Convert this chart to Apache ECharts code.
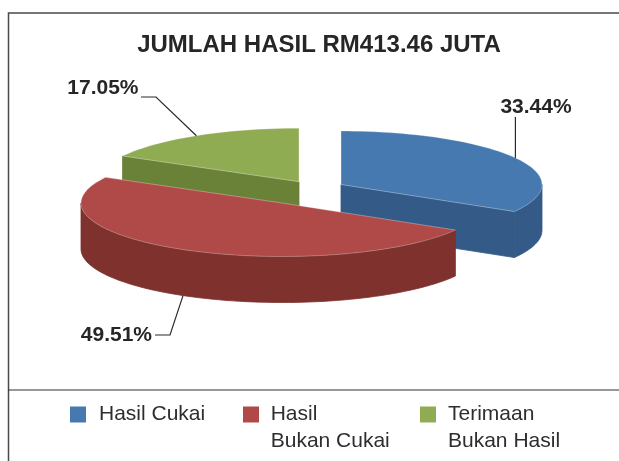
<!DOCTYPE html>
<html><head><meta charset="utf-8">
<style>html,body{margin:0;padding:0;background:#fff}#c{width:619px;height:461px}</style>
<script src="https://cdn.jsdelivr.net/npm/echarts@6/dist/echarts.min.js"></script>
</head><body><div id="c"></div>
<script>
const titleText = 'JUMLAH HASIL RM413.46 JUTA';
const categories = ['Hasil Cukai', 'Hasil\nBukan Cukai', 'Terimaan\nBukan Hasil'];
const values = [33.44, 49.51, 17.05];

// Projection and layout of the tilted exploded pie
const topColors = ['#4679b0', '#b04a48', '#90ac52'];
const wallColors = ['#345a87', '#7f312e', '#6a8238'];
const centres = [[341, 184.5], [282, 203], [299, 181.7]];
const rx = 201, ry = 53.5, depth = 46;
const zOrder = [2, 3, 1];
const elbows = [null, [170, 335, 155, 335], [156, 97, 141, 97]];
const labelPos = [[536, 107, 'center'], [152, 335, 'right'], [138.5, 88, 'right']];
const leaderTopY = 117;

const total = values.reduce((a, b) => a + b, 0);
const rad = d => d * Math.PI / 180;
function rim(c, a, dy) {
  return [c[0] + rx * Math.sin(rad(a)), c[1] - ry * Math.cos(rad(a)) + (dy || 0)];
}
function arc(c, a0, a1, dy) {
  const pts = [], n = Math.max(2, Math.ceil(Math.abs(a1 - a0) / 2));
  for (let i = 0; i <= n; i++) pts.push(rim(c, a0 + (a1 - a0) * i / n, dy));
  return pts;
}
function poly(points, color, stroke) {
  const style = { fill: color };
  if (stroke) { style.stroke = color; style.lineWidth = 0.8; }
  return { type: 'polygon', shape: { points }, style };
}
const makeRender = idx => function (params, api) {
  const v = api.value(0);
  let before = 0;
  for (let i = 0; i < idx; i++) before += values[i];
  const a0 = before / total * 360, a1 = a0 + v / total * 360;
  const c = centres[idx], kids = [];
  const w0 = Math.max(a0, 90), w1 = Math.min(a1, 270);
  if (w1 > w0) {
    kids.push(poly(arc(c, w0, w1).concat(arc(c, w1, w0, depth)), wallColors[idx], true));
  }
  const cutFace = a => {
    const p = rim(c, a);
    kids.push(poly([c, p, [p[0], p[1] + depth], [c[0], c[1] + depth]], wallColors[idx], true));
  };
  if (a1 > 90 && a1 < 270) cutFace(a1);
  if (a0 > 270 && a0 < 360) cutFace(a0);
  kids.push(poly([c].concat(arc(c, a0, a1)), topColors[idx]));
  kids.push({ type: 'polyline', shape: { points: [rim(c, a0), c, rim(c, a1)] },
    style: { stroke: 'rgba(255,255,255,0.45)', lineWidth: 0.7, fill: null } });
  kids.push({ type: 'polyline', shape: { points: arc(c, a0, a1) },
    style: { stroke: 'rgba(255,255,255,0.35)', lineWidth: 0.7, fill: null } });
  // leader line anchored on the slice's mid-angle
  const mid = (a0 + a1) / 2;
  const front = mid > 90 && mid < 270;
  const anchor = rim(c, mid, front ? depth : 0);
  let pts;
  if (elbows[idx]) {
    const e = elbows[idx];
    pts = [anchor, [e[0], e[1]], [e[2], e[3]]];
  } else {
    pts = [anchor, [anchor[0], leaderTopY]];
  }
  kids.push({ type: 'polyline', shape: { points: pts },
    style: { stroke: '#2b2b2b', lineWidth: 1.2, fill: null } });
  const lp = labelPos[idx];
  kids.push({ type: 'text', style: {
    x: lp[0], y: lp[1], text: v.toFixed(2) + '%', align: lp[2], verticalAlign: 'middle',
    font: 'bold 21px "Liberation Sans", Arial, sans-serif', fill: '#262626' } });
  return { type: 'group', children: kids };
};

const chart = echarts.init(document.getElementById('c'), null, { renderer: 'canvas' });
const iconShort = 'path://M0 0L0 0M16 27L16 27M0 5.5H16V21.5H0Z';
const iconTall = 'path://M0 0L0 0M16 54L16 54M0 5.5H16V21.5H0Z';
const legendLefts = [70, 243, 420];
const legendPads = [8, 6.7, 7];
chart.setOption({
  animation: false,
  backgroundColor: '#fff',
  title: { text: titleText, left: 314, textAlign: 'center', top: 28, textStyle: {
    fontFamily: '"Liberation Sans", Arial, sans-serif', fontWeight: 'bold', fontSize: 24, color: '#262626' } },
  legend: categories.map((name, i) => ({
    data: [name], left: legendLefts[i], top: 401, padding: 0, orient: 'horizontal',
    selectedMode: false, itemWidth: 16, itemHeight: i ? 54 : 27,
    icon: i ? iconTall : iconShort,
    textStyle: { fontFamily: '"Liberation Sans", Arial, sans-serif', fontSize: 21, lineHeight: 26.7,
      color: '#2e2e2e', padding: [0, 0, 0, legendPads[i]] }
  })),
  graphic: [
    { type: 'polyline', silent: true, shape: { points: [[8.5, 461], [8.5, 13], [619, 13]] },
      style: { stroke: '#4a4a4a', lineWidth: 1.5, fill: null } },
    { type: 'line', silent: true, shape: { x1: 8, y1: 390, x2: 619, y2: 390 },
      style: { stroke: '#333', lineWidth: 1.2 } }
  ],
  series: categories.map((name, i) => ({
    type: 'custom', name, coordinateSystem: 'none', silent: true, z: zOrder[i],
    itemStyle: { color: topColors[i] },
    data: [[values[i]]],
    renderItem: makeRender(i)
  }))
});
</script></body></html>
